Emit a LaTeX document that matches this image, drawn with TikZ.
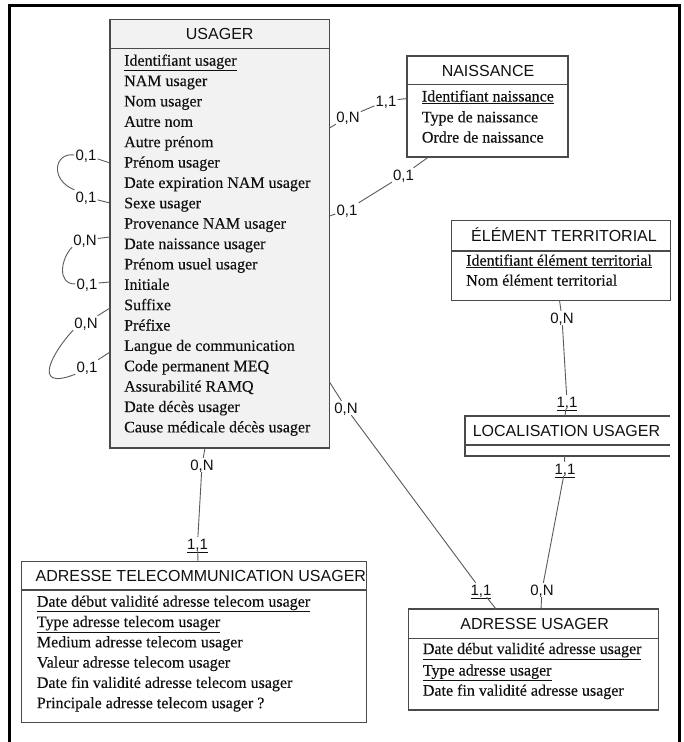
\documentclass[tikz,border=0pt]{standalone}
\usepackage{fontspec}
\setmainfont[FakeBold=0.3]{Liberation Serif}
\newfontfamily\arialf{Liberation Sans}
\definecolor{boxline}{HTML}{4A4A4A}
\definecolor{connc}{HTML}{5A5A5A}
\definecolor{txt}{HTML}{111111}
\definecolor{usfill}{HTML}{F2F2F2}
\begin{document}
\begin{tikzpicture}[x=1pt,y=-1pt,
  ent/.style={draw=boxline, line width=1.1pt, anchor=north west, inner sep=0pt, outer sep=0pt},
  hdr/.style={draw=boxline, line width=1.1pt},
  ttl/.style={font=\arialf\fontsize{16}{16}\selectfont, text=txt, anchor=base, inner sep=0pt},
  attr/.style={font=\fontsize{16}{16}\selectfont, text=txt, anchor=base west, inner sep=0pt},
  card/.style={font=\arialf\fontsize{15}{15}\selectfont, text=txt, inner sep=1pt, text height=11pt, text depth=1pt},
  conn/.style={draw=connc, line width=0.9pt}]
\useasboundingbox (0,0) rectangle (684,742);
\fill[white] (0,0) rectangle (684,742);
% frame
\draw[line width=3pt, black] (9,742) -- (9,5) -- (679,5) -- (679,742);

% USAGER
\node[ent, fill=usfill, minimum width=219.5pt, minimum height=428.5pt] (usager) at (110,19.5) {};
\draw[hdr] (110,48.3) -- (329.5,48.3);
\node[ttl] (usagerT) at (219.7,39.7) {USAGER};
\node[attr] (ua0) at (124,65.7) {\underline{Identifiant usager}};
\foreach \t [count=\i] in {NAM usager, Nom usager, Autre nom, Autre prénom, Prénom usager,
  Date expiration NAM usager, Sexe usager, Provenance NAM usager, Date naissance usager,
  Prénom usuel usager, Initiale, Suffixe, Préfixe, Langue de communication,
  Code permanent MEQ, Assurabilité RAMQ, Date décès usager, Cause médicale décès usager}
  \node[attr] (ua\i) at (124,{65.7+20.37*\i}) {\t};

% NAISSANCE
\node[ent, minimum width=161pt, minimum height=101pt] (naiss) at (407,56) {};
\draw[hdr] (407,84.3) -- (568,84.3);
\node[ttl] (naissT) at (488,76.5) {NAISSANCE};
\node[attr] (na0) at (421.7,101.5) {\underline{Identifiant naissance}};
\node[attr] (na1) at (421.7,122.3) {Type de naissance};
\node[attr] (na2) at (421.7,142.5) {Ordre de naissance};

% ELEMENT TERRITORIAL
\node[ent, minimum width=219pt, minimum height=79.5pt] (elem) at (451.7,220.7) {};
\draw[hdr] (451.7,251) -- (670.7,251);
\node[ttl] (elemT) at (564,241.5) {ÉLÉMENT TERRITORIAL};
\node[attr] (ea0) at (466,265.7) {\underline{Identifiant élément territorial}};
\node[attr] (ea1) at (466,285.7) {Nom élément territorial};

% LOCALISATION USAGER (open on the right)
\draw[hdr] (670,416) -- (465,416) -- (465,456) -- (670,456);
\draw[hdr] (465,445) -- (670,445);
\node[ttl] (locT) at (566.5,436.5) {LOCALISATION USAGER};

% ADRESSE TELECOMMUNICATION USAGER
\node[ent, minimum width=345pt, minimum height=161pt] (tele) at (21.7,561.7) {};
\draw[hdr] (21.7,590) -- (366.7,590);
\node[ttl] (teleT) at (200.8,581.2) {ADRESSE TELECOMMUNICATION USAGER};
\node[attr] (ta0) at (36.7,606.7) {\underline{Date début validité adresse telecom usager}};
\node[attr] (ta1) at (36.7,627) {\underline{Type adresse telecom usager}};
\node[attr] (ta2) at (36.7,647.3) {Medium adresse telecom usager};
\node[attr] (ta3) at (36.7,667.6) {Valeur adresse telecom usager};
\node[attr] (ta4) at (36.7,687.9) {Date fin validité adresse telecom usager};
\node[attr] (ta5) at (36.7,708.2) {Principale adresse telecom usager ?};

% ADRESSE USAGER
\node[ent, minimum width=250pt, minimum height=101pt] (adr) at (408.3,609) {};
\draw[hdr] (408.3,638.3) -- (658.3,638.3);
\node[ttl] (adrT) at (534.7,629.7) {ADRESSE USAGER};
\node[attr] (aa0) at (422.7,654) {\underline{Date début validité adresse usager}};
\node[attr] (aa1) at (422.7,675.5) {\underline{Type adresse usager}};
\node[attr] (aa2) at (422.7,695.7) {Date fin validité adresse usager};

% connection points
\coordinate (pU1) at (329.5,128);
\coordinate (pU2) at (329.5,216);
\coordinate (pU3) at (329.5,382);
\coordinate (pU4) at (205,448);
\coordinate (pN1) at (407,98.5);
\coordinate (pN2) at (428.5,157);
\coordinate (pT1) at (198,561.7);
\coordinate (pA1) at (496,609);
\coordinate (pA2) at (541,609);
\coordinate (pE1) at (559.5,300.2);
\coordinate (pL1) at (565,416);
\coordinate (pL2) at (564.5,456);
\coordinate (wA1) at (110,163);
\coordinate (wA2) at (110,203);
\coordinate (wB1) at (110,237);
\coordinate (wB2) at (110,282);
\coordinate (wC1) at (110,308);
\coordinate (wC2) at (110,352);

% cardinality labels
\node[card] (L1) at (348,117) {0,N};
\node[card] (L2) at (386,101) {1,1};
\node[card] (L3) at (347,210) {0,1};
\node[card] (L4) at (403.5,175) {0,1};
\node[card] (L5) at (346,408) {0,N};
\node[card] (L6) at (481,590) {\underline{1,1}};
\node[card] (L7) at (202,465) {0,N};
\node[card] (L8) at (197.5,544) {\underline{1,1}};
\node[card] (L9) at (562,318) {0,N};
\node[card] (L10) at (567,402) {\underline{1,1}};
\node[card] (L11) at (565,469) {\underline{1,1}};
\node[card] (L12) at (542,590) {0,N};
\node[card] (A1) at (86,155) {0,1};
\node[card] (A2) at (86,197) {0,1};
\node[card] (B1) at (85,240) {0,N};
\node[card] (B2) at (87,284) {0,1};
\node[card] (C1) at (86,323) {0,N};
\node[card] (C2) at (87,367) {0,1};

% connectors
\draw[conn] (pU1) -- (L1) -- (L2) -- (pN1);
\draw[conn] (pU2) -- (L3) -- (L4) -- (pN2);
\draw[conn] (pU3) -- (L5) -- (L6) -- (pA1);
\draw[conn] (pU4) -- (L7) -- (L8) -- (pT1);
\draw[conn] (pE1) -- (L9) -- (L10) -- (pL1);
\draw[conn] (pL2) -- (L11) -- (L12) -- (pA2);
% self loops on USAGER
\draw[conn] (wA1) -- (A1);
\draw[conn] (wA2) -- (A2);
\draw[conn] (A1.west) .. controls +(-20,-3) and +(-25,-10) .. (A2.north west);
\draw[conn] (wB1) -- (B1);
\draw[conn] (wB2) -- (B2);
\draw[conn] (B1.south west) .. controls +(-11,11) and +(-19,0) .. (B2.west);
\draw[conn] (wC1) -- (C1);
\draw[conn] (wC2) -- (C2);
\draw[conn] (C1.south west) .. controls +(-19,20) and +(-46,18) .. (C2.south west);
\end{tikzpicture}
\end{document}
